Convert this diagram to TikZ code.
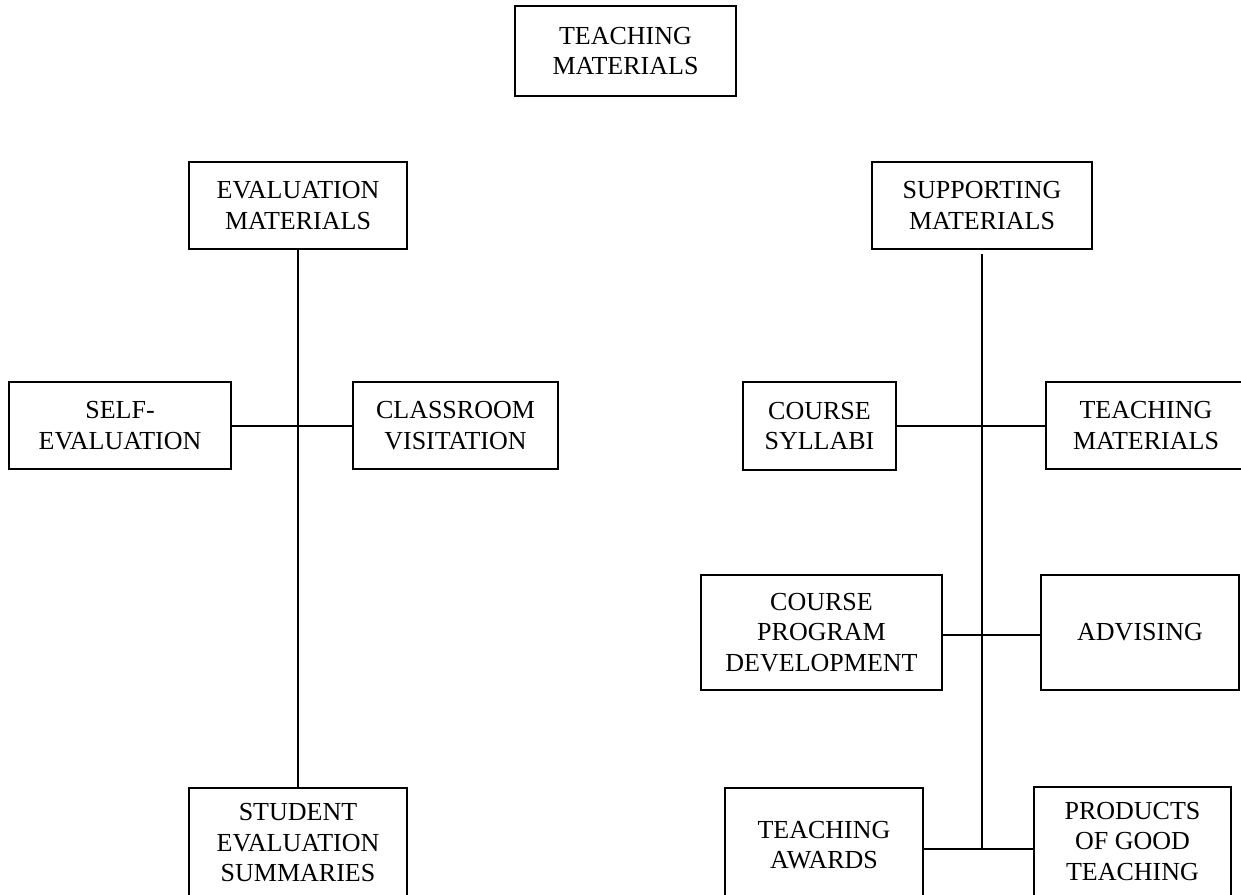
\documentclass[tikz,border=0pt]{standalone}
\usepackage{fontspec}
\setmainfont{Liberation Serif}
\begin{document}
\begin{tikzpicture}[x=1pt,y=-1pt,
  box/.style={draw, line width=1.3pt, inner sep=0pt, align=center,
    font=\fontsize{26}{30.5}\selectfont, anchor=center},
  conn/.style={line width=1.3pt}]
\useasboundingbox (0,0) rectangle (1241,894);
\node[box, minimum width=221pt, minimum height=90pt] (top) at (625.5,51) {TEACHING\\MATERIALS};
\node[box, minimum width=218pt, minimum height=87pt] (eval) at (298,205.5) {EVALUATION\\MATERIALS};
\node[box, minimum width=222pt, minimum height=87pt] (self) at (120,425.5) {SELF-\\EVALUATION};
\node[box, minimum width=205pt, minimum height=87pt] (class) at (455.5,425.5) {CLASSROOM\\VISITATION};
\node[box, minimum width=218pt, minimum height=120pt, text depth=11pt] (student) at (298,848) {STUDENT\\EVALUATION\\SUMMARIES};
\node[box, minimum width=220pt, minimum height=87pt] (sup) at (982,205.5) {SUPPORTING\\MATERIALS};
\node[box, minimum width=153pt, minimum height=88pt] (cs) at (819.5,426) {COURSE\\SYLLABI};
\node[box, minimum width=200pt, minimum height=87pt] (tm) at (1146,425.5) {TEACHING\\MATERIALS};
\node[box, minimum width=241pt, minimum height=115pt] (cp) at (821.5,632.5) {COURSE\\PROGRAM\\DEVELOPMENT};
\node[box, minimum width=198pt, minimum height=115pt] (adv) at (1140,632.5) {ADVISING};
\node[box, minimum width=198pt, minimum height=114pt] (ta) at (824,845) {TEACHING\\AWARDS};
\node[box, minimum width=197pt, minimum height=120pt, text depth=12pt] (pg) at (1132.5,847) {PRODUCTS\\OF GOOD\\TEACHING};
\coordinate (j1) at (298,426);
\coordinate (j2) at (982,426);
\coordinate (j3) at (982,635);
\coordinate (j4) at (982,849);
% left tree
\draw[conn] (eval.south) -- (student.north);
\draw[conn] (self.east |- j1) -- (class.west |- j1);
% right tree
\draw[conn] ([yshift=-4pt]sup.south) -- (j4);
\draw[conn] (cs.east |- j2) -- (tm.west |- j2);
\draw[conn] (cp.east |- j3) -- (adv.west |- j3);
\draw[conn] (ta.east |- j4) -- (pg.west |- j4);
\end{tikzpicture}
\end{document}
